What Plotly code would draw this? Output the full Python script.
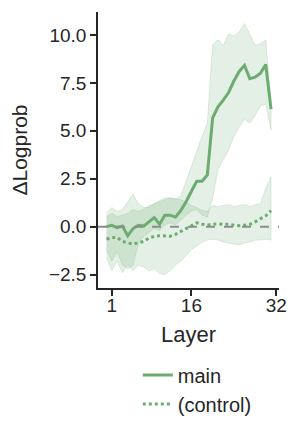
import plotly.graph_objects as go

layers = list(range(32))

main_mean = [0.0, 0.07, -0.05, 0.03, -0.47, -0.1, 0.07, 0.03, 0.25, 0.47, 0.13, 0.6,
             0.6, 0.5, 0.84, 1.3, 1.85, 2.37, 2.37, 2.7, 5.68, 6.25, 6.6, 7.0,
             7.6, 8.1, 8.42, 7.72, 7.8, 8.0, 8.46, 6.13]
main_upper = [0.7, 1.0, 0.8, 0.9, 1.3, 1.7, 1.2, 1.0, 1.0, 1.2, 1.35, 1.5,
              1.5, 1.45, 1.6, 2.4, 3.2, 4.0, 4.7, 5.4, 9.5, 9.75, 9.45, 10.05,
              9.95, 10.15, 10.6, 10.05, 9.45, 9.55, 9.75, 6.5]
main_lower = [-1.2, -1.8, -1.3, -2.0, -2.2, -2.0, -0.9, -0.5, -0.3, -0.1, -0.2, 0.1,
              0.2, 0.1, 0.35, 0.6, 0.8, 0.9, 0.6, 0.5, 1.5, 3.0, 3.5, 4.0,
              4.7, 5.2, 5.6, 5.4, 5.8, 6.3, 6.4, 5.05]

ctrl_mean = [-0.65, -0.56, -0.56, -0.77, -0.85, -0.9, -0.85, -0.77, -0.6, -0.5, -0.47, -0.5,
             -0.5, -0.4, -0.23, -0.1, 0.04, 0.2, 0.13, 0.08, 0.13, 0.15, 0.12, 0.12,
             0.08, 0.05, 0.08, 0.12, 0.25, 0.39, 0.57, 0.84]
ctrl_upper = [0.5, 0.7, 0.5, 0.6, 0.7, 0.9, 0.8, 0.9, 1.1, 1.2, 1.3, 1.4,
              1.5, 1.45, 1.4, 1.3, 1.1, 1.0, 0.85, 0.8, 1.1, 1.05, 1.1, 1.15,
              1.05, 1.1, 1.15, 1.05, 1.15, 1.2, 2.0, 2.6]
ctrl_lower = [-1.6, -2.3, -1.8, -2.4, -2.0, -2.3, -2.0, -2.1, -2.3, -2.2, -2.45, -2.5,
              -2.3, -2.0, -1.8, -1.5, -1.2, -1.0, -0.8, -0.7, -0.65, -0.7, -0.8, -0.85,
              -0.9, -0.95, -0.85, -0.8, -0.7, -0.7, -0.65, -0.7]

x_tickvals = [1, 16, 32]
x_ticktext = ["1", "16", "32"]
y_tickvals = [-2.5, 0.0, 2.5, 5.0, 7.5, 10.0]
y_ticktext = ["\u22122.5", "0.0", "2.5", "5.0", "7.5", "10.0"]

GREEN = "rgb(108,172,112)"
BAND = "rgba(108,172,112,0.18)"
TXT = "#262626"
FONT = "Liberation Sans, Arial, sans-serif"

fig = go.Figure()

for lo, hi in [(main_lower, main_upper), (ctrl_lower, ctrl_upper)]:
    fig.add_trace(go.Scatter(
        x=layers + layers[::-1], y=hi + lo[::-1],
        fill="toself", fillcolor=BAND, line=dict(width=0.8, color="rgba(108,172,112,0.25)"),
        mode="lines", showlegend=False, hoverinfo="skip"))

fig.add_trace(go.Scatter(x=layers, y=main_mean, mode="lines", name="main",
                         line=dict(color=GREEN, width=3)))
fig.add_trace(go.Scatter(x=layers, y=ctrl_mean, mode="lines", name="(control)",
                         line=dict(color=GREEN, width=3, dash="dot")))

fig.add_shape(type="line", xref="paper", x0=0, x1=1, yref="y", y0=0, y1=0,
              line=dict(color="#8c8c8c", width=2, dash="dash"), layer="above")

axis_common = dict(showline=True, linecolor=TXT, linewidth=1.5, ticks="outside",
                   ticklen=6, tickwidth=1.5, tickcolor=TXT, showgrid=False,
                   zeroline=False, tickfont=dict(size=19, color=TXT, family=FONT),
                   mirror=False, automargin=False)

# the page body adds an 8px offset, so the figure is sized to fit the 300x438 window
fig.update_layout(
    width=292, height=430,
    margin=dict(l=90, r=21, t=4, b=150),
    paper_bgcolor="white", plot_bgcolor="white",
    font=dict(family=FONT, color=TXT),
    xaxis=dict(range=[-1.6, 32.5], tickvals=x_tickvals, ticktext=x_ticktext,
               ticklabelstandoff=-7,
               title=dict(text="Layer", font=dict(size=22, color=TXT), standoff=12),
               **axis_common),
    yaxis=dict(range=[-3.2, 11.2], tickvals=y_tickvals, ticktext=y_ticktext,
               title=dict(text="\u0394Logprob", font=dict(size=21, color=TXT), standoff=18),
               **axis_common),
    legend=dict(x=0.22, y=-0.245, xanchor="left", yanchor="top",
                font=dict(size=20, color=TXT), bgcolor="rgba(0,0,0,0)",
                tracegroupgap=0),
)

fig.write_html("out.html")
